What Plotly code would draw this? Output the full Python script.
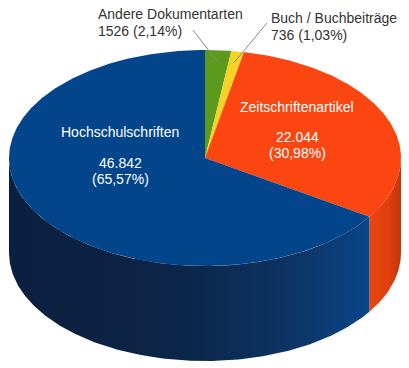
import numpy as np
import plotly.graph_objects as go

# ---- data ----
categories = ["Andere Dokumentarten", "Buch / Buchbeiträge", "Zeitschriftenartikel", "Hochschulschriften"]
values = [1526, 736, 22044, 46842]
value_labels = ["1526", "736", "22.044", "46.842"]
percent_labels = ["2,14%", "1,03%", "30,98%", "65,57%"]

# ---- styles / geometry ----
top_colors = ["#5b9a1c", "#f4d324", "#fc4611", "#03458a"]
side_gradients = [
    [[0, "#3f6f12"], [1, "#3f6f12"]],
    [[0, "#c9a815"], [1, "#c9a815"]],
    [[0, "#e8440f"], [0.6, "#e0400e"], [1, "#c2360c"]],
    [[0, "#0b2040"], [0.45, "#0c2447"], [0.8, "#0d3566"], [1, "#0a4587"]],
]
CX, CY, RX, RY, DEPTH = 205, 158, 196, 108, 95
W, H = 409, 368


def rim(theta_deg):
    t = np.radians(theta_deg)
    return CX + RX * np.sin(t), CY - RY * np.cos(t)


fig = go.Figure()

total = sum(values)
bounds = []
a = 0.0
for v in values:
    b = a + 360.0 * v / total
    bounds.append((a, b))
    a = b

# side walls (front half only: 90..270 deg clockwise from top)
for i, (a0, a1) in enumerate(bounds):
    s0, s1 = max(a0, 90), min(a1, 270)
    if s1 <= s0:
        continue
    th = np.linspace(s0, s1, 200)
    x, y = rim(th)
    xs = np.concatenate([x, x[::-1], x[:1]])
    ys = np.concatenate([y, (y + DEPTH)[::-1], y[:1]])
    fig.add_trace(go.Scatter(
        x=xs, y=ys, mode="lines", fill="toself", line=dict(width=0),
        fillcolor=top_colors[i],
        fillgradient=dict(type="horizontal", colorscale=side_gradients[i]),
        hoverinfo="skip", showlegend=False))

# top faces
for i, (a0, a1) in enumerate(bounds):
    n = max(4, int((a1 - a0) * 2))
    th = np.linspace(a0, a1, n)
    x, y = rim(th)
    xs = np.concatenate([[CX], x, [CX]])
    ys = np.concatenate([[CY], y, [CY]])
    fig.add_trace(go.Scatter(
        x=xs, y=ys, mode="lines", fill="toself", line=dict(width=0),
        fillcolor=top_colors[i], hoverinfo="skip", showlegend=False))

font = "Liberation Sans, Arial, sans-serif"

# inside labels: (x, y of name, y of value, y of percent)
inside_pos = {2: (297, 107, 137, 153), 3: (120, 132, 163, 179)}
for i, (px, y_name, y_val, y_pct) in inside_pos.items():
    for txt, yy in ((categories[i], y_name), (value_labels[i], y_val),
                    (f"({percent_labels[i]})", y_pct)):
        fig.add_annotation(
            x=px, y=yy, xref="x", yref="y", showarrow=False, text=txt,
            font=dict(family=font, size=14, color="#ffffff"), align="center")

# outside labels with leader lines
outside_pos = {0: (96, 14, 31, 193, 30), 1: (269, 18, 35, 267, 23)}
for i, (tx, y1, y2, lx, ly) in outside_pos.items():
    a0, a1 = bounds[i]
    mid = np.radians((a0 + a1) / 2)
    ex = CX + 0.9 * RX * np.sin(mid)
    ey = CY - 0.9 * RY * np.cos(mid)
    fig.add_trace(go.Scatter(
        x=[lx, ex], y=[ly, ey], mode="lines",
        line=dict(color="#8a8a8a", width=1), hoverinfo="skip", showlegend=False))
    for txt, yy in ((categories[i], y1), (f"{value_labels[i]} ({percent_labels[i]})", y2)):
        fig.add_annotation(
            x=tx, y=yy, xref="x", yref="y", showarrow=False, xanchor="left",
            text=txt, font=dict(family=font, size=14, color="#333333"), align="left")

fig.update_layout(
    width=W, height=H, margin=dict(l=0, r=0, t=0, b=0),
    paper_bgcolor="white", plot_bgcolor="white",
    xaxis=dict(range=[0, W], visible=False, fixedrange=True),
    yaxis=dict(range=[H, 0], visible=False, fixedrange=True),
)

fig.write_html("out.html", config={"displayModeBar": False},
               post_script="document.body.style.margin='0';")
